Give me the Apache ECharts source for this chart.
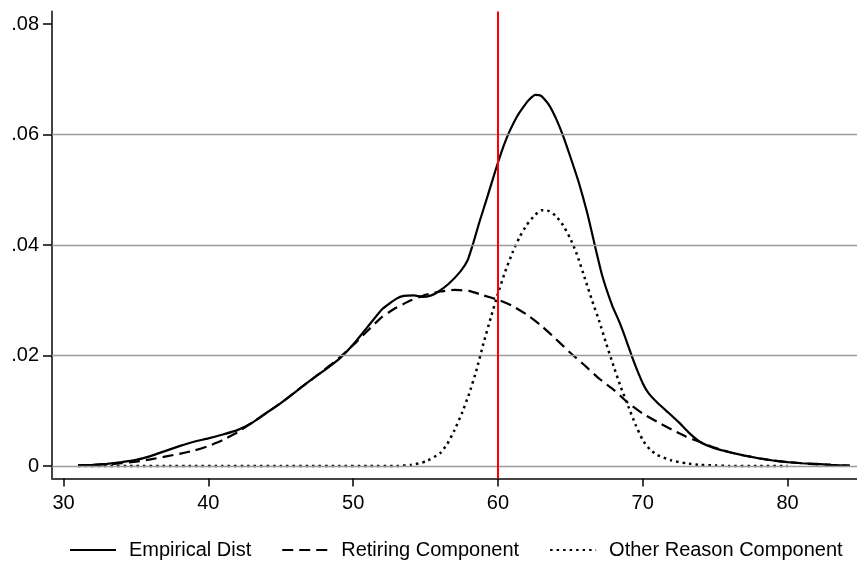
<!DOCTYPE html>
<html>
<head>
<meta charset="utf-8">
<script src="https://cdn.jsdelivr.net/npm/echarts@6/dist/echarts.min.js"></script>
<style>
  html, body { margin: 0; padding: 0; background: #fff; }
  #main { width: 857px; height: 563px; }
</style>
</head>
<body>
<div id="main"></div>
<script>
// values (age, density)
var empAge = [31, 32, 33, 34, 35, 36, 37, 38, 39, 40, 41, 42, 43, 44, 45, 46, 47, 48, 49, 50, 51, 52, 53, 53.5, 54.2, 54.8, 55.4, 55.9, 56.6, 57.4, 57.9, 58.3, 58.7, 59.3, 59.9, 60.4, 60.8, 61.3, 61.7, 62.1, 62.6, 63, 63.5, 64, 64.5, 65, 65.6, 66.2, 66.6, 67.2, 67.9, 68.4, 68.9, 69.4, 70, 70.4, 71, 71.8, 72.5, 73.2, 74, 75, 76, 77, 78, 79, 80, 81, 82, 83, 84.3]
var empDens = [0.0001, 0.0002, 0.0004, 0.0007, 0.0011, 0.0018, 0.0027, 0.0036, 0.0044, 0.0050, 0.0057, 0.0065, 0.0078, 0.0096, 0.0114, 0.0134, 0.0154, 0.0173, 0.0193, 0.0220, 0.0252, 0.0284, 0.0303, 0.0308, 0.0309, 0.0306, 0.0309, 0.0316, 0.0330, 0.0352, 0.0372, 0.0404, 0.0440, 0.0490, 0.0541, 0.0580, 0.0606, 0.0632, 0.0648, 0.0662, 0.0672, 0.0670, 0.0655, 0.0630, 0.0598, 0.0560, 0.0512, 0.0455, 0.0410, 0.0345, 0.0290, 0.0260, 0.0225, 0.0188, 0.0150, 0.0132, 0.0115, 0.0096, 0.0079, 0.0060, 0.0043, 0.0032, 0.0025, 0.0019, 0.0014, 0.0010, 0.0007, 0.0005, 0.0004, 0.0002, 0.0000]

var retAge = [31, 32, 33, 34, 35, 36, 37, 38, 39, 40, 41, 42, 43, 44, 45, 46, 47, 48, 49, 50, 51, 52, 53, 54, 55, 56, 57, 58, 59, 60, 61, 62, 63, 64, 65, 66, 67, 68, 69, 70, 71, 72, 73, 74, 75, 76, 77, 78, 79, 80, 81, 82, 83, 84.3]
var retDens = [0.0001, 0.0002, 0.0003, 0.0005, 0.0008, 0.0012, 0.0017, 0.0022, 0.0028, 0.0036, 0.0047, 0.0061, 0.0078, 0.0096, 0.0114, 0.0134, 0.0154, 0.0174, 0.0195, 0.0219, 0.0245, 0.0270, 0.0287, 0.0300, 0.0310, 0.0316, 0.0319, 0.0317, 0.0309, 0.0301, 0.0290, 0.0274, 0.0254, 0.0230, 0.0205, 0.0182, 0.0158, 0.0138, 0.0114, 0.0095, 0.0080, 0.0066, 0.0053, 0.0043, 0.0033, 0.0025, 0.0019, 0.0014, 0.0010, 0.0007, 0.0005, 0.0003, 0.0002, 0.0001]

var othAge = [31, 33, 35, 37, 39, 41, 43, 45, 47, 49, 51, 53, 54, 55, 56, 56.5, 57, 57.5, 58, 58.5, 59, 59.5, 60, 60.5, 61, 61.5, 62, 62.5, 63, 63.5, 64, 64.5, 65, 65.5, 66, 66.5, 67, 67.5, 68, 68.5, 69, 69.5, 70, 70.5, 71, 72, 73, 74, 75, 76, 78, 80]
var othDens = [0, 0, 0, 0, 0, 0, 0, 0, 0, 0, 0, 0, 0.0002, 0.0008, 0.0023, 0.0040, 0.0065, 0.0095, 0.0130, 0.0172, 0.0222, 0.0268, 0.0312, 0.0352, 0.0386, 0.0415, 0.0437, 0.0453, 0.0463, 0.0462, 0.0453, 0.0436, 0.0412, 0.0380, 0.0340, 0.0300, 0.0262, 0.0220, 0.0180, 0.0142, 0.0108, 0.0075, 0.0047, 0.0030, 0.0020, 0.0010, 0.0005, 0.0002, 0.0001, 0, 0, 0]

var xTicks = [30, 40, 50, 60, 70, 80]
var yTicks = [0, 0.02, 0.04, 0.06, 0.08]
var gridTicks = [0, 0.02, 0.04, 0.06]
var cutoffAge = 60
var names = ['Empirical Dist', 'Retiring Component', 'Other Reason Component']

function pairs(xs, ys) {
  return xs.map(function (x, i) { return [x, ys[i]] })
}

var font = 'Liberation Sans, Arial, sans-serif'
var myChart = echarts.init(document.getElementById('main'), null, { renderer: 'canvas' })

myChart.setOption({
  animation: false,
  grid: { left: 52, right: 0, top: 11.5, bottom: 84.5 },
  legend: {
    data: names,
    left: 64,
    top: 535,
    itemWidth: 46,
    itemHeight: 14,
    itemGap: 30,
    itemStyle: { opacity: 0 },
    textStyle: { fontFamily: font, fontSize: 20, color: '#000', padding: [0, 0, 0, 8] }
  },
  xAxis: {
    type: 'value',
    min: 29.2,
    max: 84.8,
    axisLine: { onZero: false, lineStyle: { color: '#444', width: 2 } },
    axisTick: { show: true, inside: false, customValues: xTicks, length: 8, lineStyle: { color: '#000', width: 1.5 } },
    axisLabel: { customValues: xTicks, fontFamily: font, fontSize: 20, color: '#000', margin: 15 },
    splitLine: { show: false }
  },
  yAxis: {
    type: 'value',
    min: -0.00226,
    max: 0.0823,
    axisLine: { show: true, onZero: false, lineStyle: { color: '#444', width: 2 } },
    axisTick: { show: true, inside: false, customValues: yTicks, length: 9, lineStyle: { color: '#000', width: 1.5 } },
    axisLabel: {
      customValues: yTicks,
      fontFamily: font, fontSize: 20, color: '#000', margin: 13,
      formatter: function (v) { return v === 0 ? '0' : v.toFixed(2).replace(/^0/, '') }
    },
    splitLine: { show: false }
  },
  series: [
    {
      name: 'grid',
      type: 'line',
      data: [],
      z: 1,
      silent: true,
      markLine: {
        silent: true,
        symbol: 'none',
        label: { show: false },
        lineStyle: { color: '#9a9a9a', type: 'solid', width: 1.3 },
        data: gridTicks.map(function (v) { return { yAxis: v } })
      }
    },
    {
      name: names[0],
      type: 'line',
      data: pairs(empAge, empDens),
      symbol: 'none',
      smooth: 0.15,
      z: 3,
      lineStyle: { color: '#000', width: 2.2, type: 'solid' },
      itemStyle: { color: '#000' }
    },
    {
      name: names[1],
      type: 'line',
      data: pairs(retAge, retDens),
      symbol: 'none',
      smooth: 0.15,
      z: 3,
      lineStyle: { color: '#000', width: 2.2, type: [11, 6] },
      itemStyle: { color: '#000' }
    },
    {
      name: names[2],
      type: 'line',
      data: pairs(othAge, othDens),
      symbol: 'none',
      smooth: 0.15,
      z: 3,
      lineStyle: { color: '#000', width: 2.5, type: [2.5, 4] },
      itemStyle: { color: '#000' },
      markLine: {
        silent: true,
        symbol: 'none',
        label: { show: false },
        lineStyle: { color: '#ff0000', type: 'solid', width: 2 },
        data: [{ xAxis: cutoffAge }]
      }
    }
  ]
})
</script>
</body>
</html>
